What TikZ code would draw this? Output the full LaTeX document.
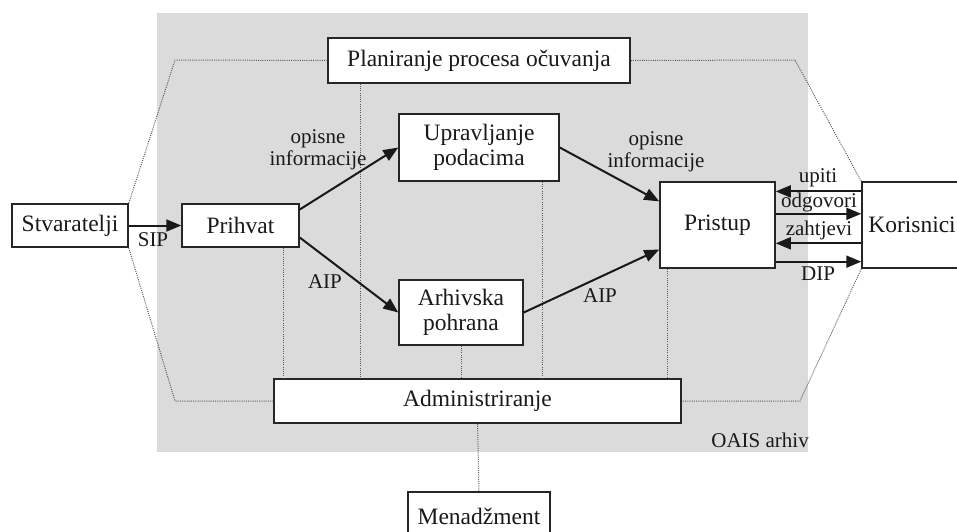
\documentclass[tikz,border=0pt]{standalone}
\usepackage{fontspec}
\setmainfont{Liberation Serif}
\usetikzlibrary{arrows.meta,calc}
\begin{document}
\begin{tikzpicture}[x=1pt,y=-1pt,
 box/.style={draw=black!85,line width=1.5pt,fill=white,inner sep=0pt,font=\fontsize{23.5}{25}\selectfont,text=black!90,align=center},
 lbl/.style={font=\fontsize{21}{22.5}\selectfont,text=black!90,align=center,inner sep=0pt},
 flow/.style={line width=2pt,draw=black!90,-{Triangle[length=15pt,width=12pt]}},
 dots/.style={draw=black!65,line width=1pt,dash pattern=on 1pt off 1.2pt}]
\useasboundingbox (0,0) rectangle (957,531);
\fill[black!14] (157,13) rectangle (808,452);
% boxes
\node[box,minimum width=302pt,minimum height=45pt] (plan) at (479,60.5) {Planiranje procesa očuvanja};
\node[box,minimum width=116pt,minimum height=43pt] (stv) at (70,225.5) {Stvaratelji};
\node[box,minimum width=117pt,minimum height=43pt] (prih) at (240.5,225.5) {Prihvat};
\node[box,minimum width=160pt,minimum height=67pt] (upr) at (479,147.5) {Upravljanje\\podacima};
\node[box,minimum width=124pt,minimum height=65pt] (arh) at (461,312.5) {Arhivska\\pohrana};
\node[box,minimum width=115pt,minimum height=86pt] (pri) at (717.5,225) {Pristup};
\node[box,minimum width=100pt,minimum height=86pt] (kor) at (912,225) {Korisnici};
\node[box,minimum width=407pt,minimum height=44pt] (adm) at (477.5,401) {Administriranje};
\node[box,minimum width=142pt,minimum height=48pt] (men) at (479,516) {Menadžment};
% hexagon boundary (dotted)
\coordinate (h1) at (175,60);
\coordinate (h2) at (175,401);
\coordinate (h3) at (795,60);
\coordinate (h4) at (800,401);
\draw[dots] (plan.west) -- (h1) -- (stv.north east);
\draw[dots] (stv.south east) -- (h2) -- (adm.west);
\draw[dots] (plan.east) -- (h3) -- (kor.north west);
\draw[dots] (kor.south west) -- (h4) -- (adm.east);
% vertical dotted links
\coordinate (v1) at ($(prih.south west)+(102,0)$);
\coordinate (v2) at ($(plan.south west)+(33,0)$);
\coordinate (v3) at (arh.south);
\coordinate (v4) at ($(upr.south east)+(-17,0)$);
\coordinate (v5) at ($(pri.south west)+(8,0)$);
\foreach \v in {v1,v2,v3,v4,v5} \draw[dots] (\v) -- (\v |- adm.north);
\draw[dots] (adm.south) -- (men.north);
% flows
\draw[flow] (stv.east) -- (prih.west);
\draw[flow] ($(prih.north east)!0.14!(prih.south east)$) -- (upr.west);
\draw[flow] ($(prih.north east)!0.77!(prih.south east)$) -- (arh.west);
\draw[flow] (upr.east) -- ($(pri.north west)!0.23!(pri.south west)$);
\draw[flow] (arh.east) -- ($(pri.north west)!0.78!(pri.south west)$);
\coordinate (a1) at ($(pri.north east)!0.116!(pri.south east)$);
\coordinate (a2) at ($(pri.north east)!0.372!(pri.south east)$);
\coordinate (a3) at ($(pri.north east)!0.709!(pri.south east)$);
\coordinate (a4) at ($(pri.north east)!0.919!(pri.south east)$);
\draw[flow] (a1 -| kor.west) -- (a1);
\draw[flow] (a2) -- (a2 -| kor.west);
\draw[flow] (a3 -| kor.west) -- (a3);
\draw[flow] (a4) -- (a4 -| kor.west);
% labels
\node[lbl] (lsip) at (153,240) {SIP};
\node[lbl] (lop1) at (318,150) {opisne\\informacije};
\node[lbl] (lop2) at (656,152) {opisne\\informacije};
\node[lbl] (laip1) at (325,282) {AIP};
\node[lbl] (laip2) at (600,296) {AIP};
\node[lbl] (lup) at (818,178) {upiti};
\node[lbl] (lodg) at (819,202) {odgovori};
\node[lbl] (lzah) at (819,230) {zahtjevi};
\node[lbl] (ldip) at (818,274) {DIP};
\node[lbl,anchor=east] (loais) at (809,440) {OAIS arhiv};
\end{tikzpicture}
\end{document}
